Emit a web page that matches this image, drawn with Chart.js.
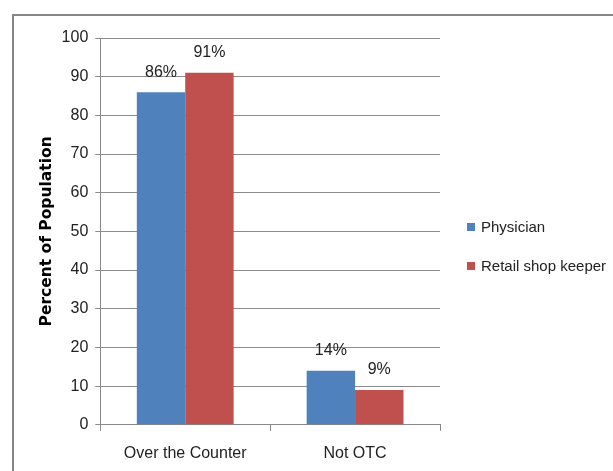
<!DOCTYPE html>
<html>
<head>
<meta charset="utf-8">
<script src="https://cdn.jsdelivr.net/npm/chart.js@4.4.0/dist/chart.umd.min.js"></script>
<style>
  html, body { margin: 0; padding: 0; background: #fff; }
  #wrap { position: relative; width: 613px; height: 471px; overflow: hidden; }
  #frame { position: absolute; left: 12px; top: 14px; width: 700px; height: 600px; border: 2px solid #868686; box-sizing: border-box; }
  #chart { position: absolute; left: 0; top: 0; }
  #legend { position: absolute; left: 467px; top: 218px; font-family: "Liberation Sans", sans-serif; font-size: 15px; color: #222; white-space: nowrap; }
  #legend div { height: 39px; display: flex; align-items: flex-start; }
  #legend span.box { display: inline-block; width: 8px; height: 8px; margin: 5px 6px 0 0; }
</style>
</head>
<body>
<div id="wrap">
  <div id="frame"></div>
  <canvas id="chart" width="613" height="478"></canvas>
  <div id="legend"></div>
</div>
<script>
const categories = ['Over the Counter', 'Not OTC'];
const physician = [86, 14];
const retailShopKeeper = [91, 9];
const seriesNames = ['Physician', 'Retail shop keeper'];
const yTicks = [0, 10, 20, 30, 40, 50, 60, 70, 80, 90, 100];

const colors = ['#4F81BD', '#C0504D'];
const fontFamily = '"Liberation Sans", sans-serif';

const valueLabels = {
    id: 'valueLabels',
    afterDatasetsDraw(chart) {
        const ctx = chart.ctx;
        ctx.save();
        ctx.font = '16px ' + fontFamily;
        ctx.fillStyle = '#222';
        ctx.textAlign = 'center';
        ctx.textBaseline = 'middle';
        chart.data.datasets.forEach((ds, i) => {
            chart.getDatasetMeta(i).data.forEach((bar, j) => {
                ctx.fillText(ds.data[j] + '%', bar.x, bar.y - 20);
            });
        });
        ctx.restore();
    }
};

const ctx = document.getElementById('chart').getContext('2d');
const chart = new Chart(ctx, {
    type: 'bar',
    data: {
        labels: categories,
        datasets: [
            { label: seriesNames[0], data: physician, backgroundColor: colors[0] },
            { label: seriesNames[1], data: retailShopKeeper, backgroundColor: colors[1] }
        ]
    },
    options: {
        responsive: false,
        animation: false,
        layout: { padding: { left: 38, top: 38, right: 173, bottom: 2 } },
        datasets: { bar: { categoryPercentage: 0.57, barPercentage: 1.0 } },
        scales: {
            x: {
                grid: { drawOnChartArea: false, color: '#888', tickLength: 6 },
                border: { color: '#888' },
                ticks: { color: '#222', font: { family: fontFamily, size: 16 }, padding: 13 }
            },
            y: {
                min: 0, max: 100,
                afterBuildTicks: axis => { axis.ticks = yTicks.map(v => ({ value: v })); },
                grid: { color: '#8c8c8c', tickLength: 5 },
                border: { color: '#888' },
                ticks: { color: '#222', font: { family: fontFamily, size: 16 }, padding: 7 },
                title: {
                    display: true,
                    text: 'Percent of Population',
                    color: '#000',
                    font: { family: '"DejaVu Sans", sans-serif', size: 15.5, weight: 'bold' },
                    padding: { top: 0, bottom: -2 }
                }
            }
        },
        plugins: {
            legend: { display: false },
            tooltip: { enabled: false }
        }
    },
    plugins: [valueLabels]
});

const legend = document.getElementById('legend');
chart.data.datasets.forEach(ds => {
    const row = document.createElement('div');
    const box = document.createElement('span');
    box.className = 'box';
    box.style.background = ds.backgroundColor;
    row.appendChild(box);
    row.appendChild(document.createTextNode(ds.label));
    legend.appendChild(row);
});
</script>
</body>
</html>
